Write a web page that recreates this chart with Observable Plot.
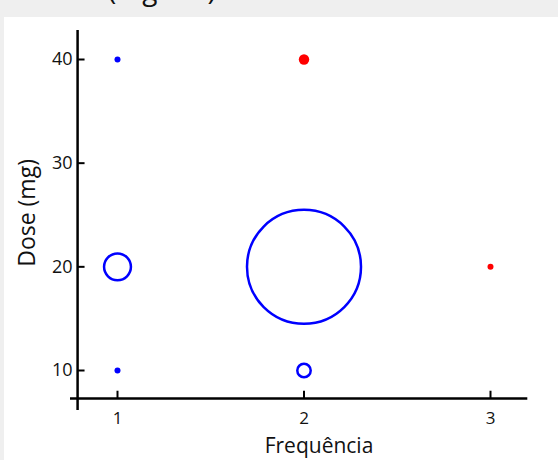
<!DOCTYPE html>
<html>
<head>
<meta charset="utf-8">
<script src="https://cdn.jsdelivr.net/npm/d3@7"></script>
<script src="https://cdn.jsdelivr.net/npm/@observablehq/plot@0.6"></script>
<style>
  html, body { margin: 0; padding: 0; }
  body { width: 558px; height: 460px; background: #efefef; position: relative; overflow: hidden; font-family: "Open Sans", sans-serif; }
  #band { position: absolute; left: 0; top: 0; width: 558px; height: 17px; overflow: hidden; background: #efefef; }
  #band span { position: absolute; left: 108px; top: -30px; font-size: 28px; color: #111; white-space: nowrap; }
  #chart { position: absolute; left: 4px; top: 17px; width: 554px; height: 443px; background: #fff; }
  #chart svg { display: block; }
</style>
</head>
<body>
<div id="band"><span>(mg/dia)</span></div>
<div id="chart"></div>
<script>
// Data
const frequencia = [1, 2, 1, 2, 3, 1, 2];
const dose       = [40, 40, 20, 20, 20, 10, 10];
const contagem   = [1, 3, 20, 360, 1, 1, 5];
const grupo      = ["azul", "vermelho", "azul", "azul", "vermelho", "azul", "azul"];

const freqTicks = [1, 2, 3];
const doseTicks = [10, 20, 30, 40];
const xTitle = "Frequência";
const yTitle = "Dose (mg)";

// axis crossing / extent (data units)
const yAxisAtX = 0.786, yAxisFrom = 6.15, yAxisTo = 42.8;
const xAxisAtY = 7.3, xAxisFrom = 0.748, xAxisTo = 3.2;

const pts = frequencia.map((f, i) => ({f, d: dose[i], n: contagem[i], g: grupo[i]}));
const hollow = pts.filter(p => p.g === "azul" && p.n > 1);
const solid = pts.filter(p => !(p.g === "azul" && p.n > 1));

const font = "Open Sans";
const chart = Plot.plot({
  width: 554,
  height: 443,
  margin: 0,
  style: {background: "#fff", fontFamily: font, color: "#111"},
  x: {domain: [1, 3], range: [113, 486], axis: null},
  y: {domain: [10, 40], range: [353, 42], axis: null},
  r: {type: "sqrt", domain: [0, 360], range: [0, 57]},
  color: {domain: ["azul", "vermelho"], range: ["#0000ff", "#ff0000"]},
  marks: [
    Plot.ruleX([yAxisAtX], {x: d => d, y1: yAxisFrom, y2: yAxisTo, stroke: "#000", strokeWidth: 2.5}),
    Plot.ruleY([xAxisAtY], {y: d => d, x1: xAxisFrom, x2: xAxisTo, stroke: "#000", strokeWidth: 2.5}),
    Plot.ruleY(doseTicks, {y: d => d, x1: yAxisAtX, x2: yAxisAtX + 0.04, stroke: "#000", strokeWidth: 2}),
    Plot.ruleX(freqTicks, {x: d => d, y1: xAxisAtY, y2: xAxisAtY + 0.7, stroke: "#000", strokeWidth: 2}),
    Plot.text(doseTicks, {x: yAxisAtX, y: d => d, text: d => String(d), dx: -5, textAnchor: "end", fontSize: 18, fill: "#111"}),
    Plot.text(freqTicks, {x: d => d, y: xAxisAtY, text: d => String(d), dy: 20, fontSize: 17, fill: "#111"}),
    Plot.text([xTitle], {x: 2, y: xAxisAtY, text: d => d, dx: 15, dy: 48, fontSize: 21, fill: "#111"}),
    Plot.text([yTitle], {x: yAxisAtX, y: 25.2, text: d => d, dx: -50, rotate: -90, fontSize: 23, fill: "#111"}),
    Plot.dot(hollow, {x: "f", y: "d", r: "n", stroke: "g", fill: "none", strokeWidth: 2.5}),
    Plot.dot(solid, {x: "f", y: "d", r: "n", fill: "g", stroke: "none"})
  ]
});
document.getElementById("chart").appendChild(chart);
</script>
</body>
</html>
